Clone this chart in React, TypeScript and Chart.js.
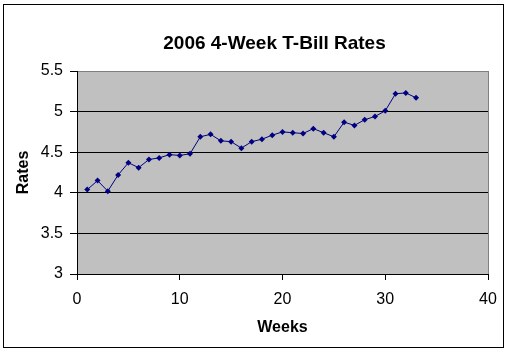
import React, { useEffect, useRef } from "react";
import { Chart, registerables } from "chart.js";

Chart.register(...registerables);

const weeks = [1, 2, 3, 4, 5, 6, 7, 8, 9, 10, 11, 12, 13, 14, 15, 16, 17, 18, 19, 20, 21, 22, 23, 24, 25, 26, 27, 28, 29, 30, 31, 32, 33];
const rates = [4.04, 4.15, 4.02, 4.22, 4.37, 4.31, 4.41, 4.43, 4.47, 4.46, 4.48, 4.69, 4.72, 4.64, 4.63, 4.55, 4.63, 4.66, 4.71, 4.75, 4.74, 4.73, 4.79, 4.74, 4.69, 4.87, 4.83, 4.9, 4.94, 5.01, 5.22, 5.23, 5.17];
const chartTitle = "2006 4-Week T-Bill Rates";
const xTitle = "Weeks";
const yTitle = "Rates";

const FONT = "Arial, 'Liberation Sans', sans-serif";

export default function App() {
  const ref = useRef<HTMLCanvasElement>(null);
  useEffect(() => {
    document.body.style.margin = "0";
    const canvas = ref.current!;
    const decor = {
      id: "decor",
      beforeDraw(chart: any) {
        const { ctx, chartArea } = chart;
        ctx.save();
        ctx.fillStyle = "#ffffff";
        ctx.fillRect(0, 0, chart.width, chart.height);
        ctx.strokeStyle = "#000000";
        ctx.lineWidth = 1;
        ctx.strokeRect(3.5, 4.5, 500, 343);
        ctx.fillStyle = "#C0C0C0";
        ctx.fillRect(chartArea.left, chartArea.top, chartArea.right - chartArea.left, chartArea.bottom - chartArea.top);
        ctx.fillStyle = "#000000";
        ctx.font = `bold 19px ${FONT}`;
        ctx.textAlign = "center";
        ctx.textBaseline = "middle";
        ctx.fillText(chartTitle, 274.5, 43.5);
        ctx.restore();
      },
      beforeDatasetsDraw(chart: any) {
        const { ctx, chartArea } = chart;
        ctx.save();
        ctx.strokeStyle = "#808080";
        ctx.lineWidth = 1;
        ctx.beginPath();
        ctx.moveTo(Math.round(chartArea.right) + 0.5, chartArea.top);
        ctx.lineTo(Math.round(chartArea.right) + 0.5, chartArea.bottom);
        ctx.stroke();
        ctx.restore();
      },
    };
    const chart = new Chart(canvas, {
      type: "scatter",
      data: {
        datasets: [
          {
            data: weeks.map((w, i) => ({ x: w, y: rates[i] })),
            showLine: true,
            borderColor: "#000080",
            backgroundColor: "#000080",
            borderWidth: 1,
            pointStyle: "rectRot",
            pointRadius: 3,
            pointBorderWidth: 0,
          },
        ],
      },
      options: {
        responsive: false,
        animation: false,
        layout: { padding: { top: 71, right: 23, left: 0, bottom: 0 } },
        plugins: {
          legend: { display: false },
          tooltip: { enabled: false },
          title: { display: false },
        },
        scales: {
          x: {
            type: "linear",
            min: 0,
            max: 40,
            ticks: { stepSize: 10, color: "#000", font: { family: FONT, size: 16 }, padding: 10 },
            grid: { drawOnChartArea: false, drawTicks: true, tickLength: 6, color: "#000" },
            border: { color: "#000", width: 1 },
            title: { display: true, text: xTitle, color: "#000", font: { family: FONT, size: 16, weight: "bold" }, padding: { top: 0, bottom: 14.4 } },
            afterFit(scale: any) {
              scale.height = 78;
            },
          },
          y: {
            type: "linear",
            min: 3,
            max: 5.5,
            ticks: {
              stepSize: 0.5,
              color: "#000",
              font: { family: FONT, size: 16 },
              padding: 7,
              callback: (v: any) => String(Math.round(Number(v) * 10) / 10),
            },
            grid: {
              drawTicks: true,
              tickLength: 7,
              color: (c: any) => (c.tick && c.tick.value === 5.5 ? "#808080" : "#000000"),
              tickColor: "#000",
            },
            border: { color: "#000", width: 1 },
            title: { display: true, text: yTitle, color: "#000", font: { family: FONT, size: 16, weight: "bold" }, padding: { top: 14.4, bottom: 0 } },
            afterFit(scale: any) {
              scale.width = 77;
            },
          },
        },
      },
      plugins: [decor],
    } as any);
    return () => chart.destroy();
  }, []);
  return <canvas ref={ref} width={511} height={352} style={{ display: "block", width: 511, height: 352 }} />;
}
